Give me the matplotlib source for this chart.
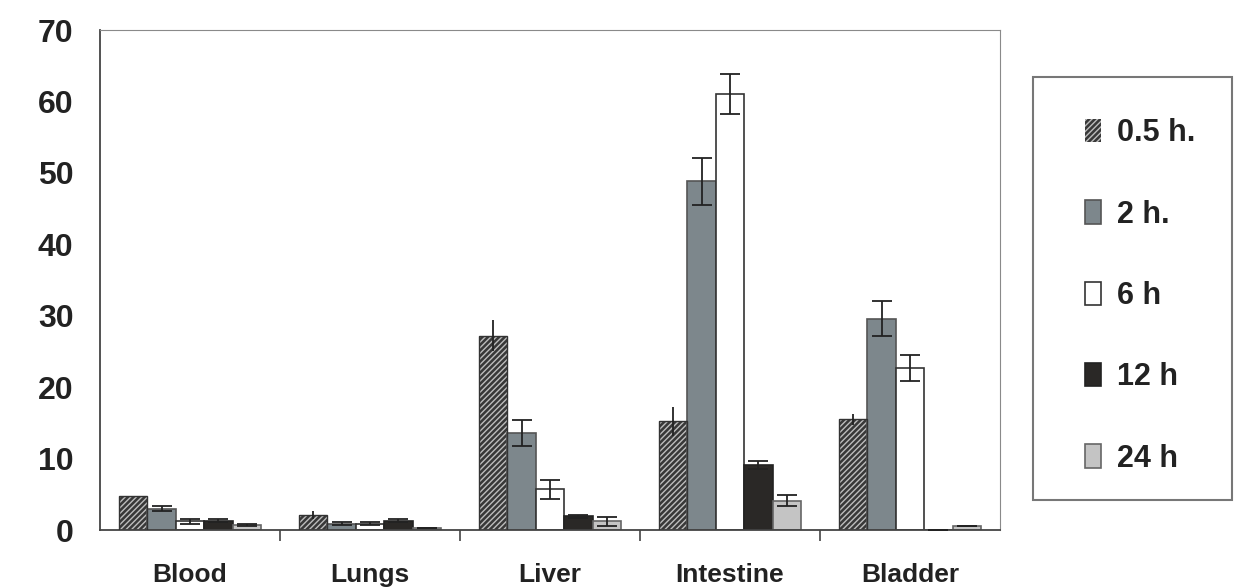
import matplotlib.pyplot as plt
from matplotlib.patches import Rectangle
import numpy as np

plt.rcParams['font.family'] = ['Liberation Sans', 'DejaVu Sans']
plt.rcParams['font.weight'] = 'bold'

organs = ['Blood', 'Lungs', 'Liver', 'Intestine', 'Bladder']
times = ['0.5 h.', '2 h.', '6 h', '12 h', '24 h']

# uptake per organ, one list per time point
v_05 = [4.8, 2.1, 27.2, 15.2, 15.5]
v_2 = [3.0, 0.9, 13.6, 48.8, 29.6]
v_6 = [1.2, 0.9, 5.7, 61.0, 22.7]
v_12 = [1.3, 1.3, 1.9, 9.1, 0.0]
v_24 = [0.7, 0.3, 1.2, 4.1, 0.5]

e_05 = [0.0, 0.5, 2.2, 2.0, 0.8]
e_2 = [0.4, 0.2, 1.8, 3.3, 2.4]
e_6 = [0.3, 0.2, 1.3, 2.8, 1.8]
e_12 = [0.2, 0.2, 0.2, 0.5, 0.0]
e_24 = [0.2, 0.0, 0.6, 0.8, 0.0]

values = [v_05, v_2, v_6, v_12, v_24]
errors = [e_05, e_2, e_6, e_12, e_24]
faces = ['#383838', '#7d878c', '#ffffff', '#2a2826', '#c4c4c4']
edges = ['#333333', '#555555', '#333333', '#222222', '#666666']
caps = [0, 7, 7, 7, 7]

fig = plt.figure(figsize=(12.34, 5.87), dpi=100)
ax = fig.add_axes([100 / 1234, 57 / 587, 900 / 1234, 500 / 587])

x = np.arange(len(organs))
w = 0.158
handles = []
for i, (vals, errs) in enumerate(zip(values, errors)):
    pos = x + (i - 2) * w
    if i == 0:
        b = ax.bar(pos, vals, w, color=faces[i], edgecolor='#bdbdbd',
                   hatch='//////', linewidth=0, zorder=2)
        ax.bar(pos, vals, w, fill=False, edgecolor=edges[i], linewidth=1, zorder=3)
    else:
        b = ax.bar(pos, vals, w, color=faces[i], edgecolor=edges[i],
                   linewidth=1.2, zorder=2)
    handles.append(b)
    ax.errorbar(pos, vals, yerr=errs, fmt='none', ecolor='#222222',
                elinewidth=1.3, capsize=caps[i], capthick=1.3, zorder=4)

ax.set_xlim(-0.5, 4.5)
ax.set_ylim(0, 70)
ax.set_yticks(range(0, 71, 10))
ax.tick_params(axis='y', length=0, pad=19, labelsize=23)
ax.set_xticks(x)
ax.set_xticklabels(organs)
ax.tick_params(axis='x', length=0, pad=24, labelsize=19)
ax.set_xticks(x[:-1] + 0.5, minor=True)
ax.tick_params(axis='x', which='minor', length=8, width=1.2, color='#444444')
for lab in ax.get_yticklabels() + ax.get_xticklabels():
    lab.set_fontweight('bold')
    lab.set_color('#222222')

ax.spines['left'].set_color('#444444')
ax.spines['bottom'].set_color('#444444')
ax.spines['left'].set_linewidth(1.3)
ax.spines['bottom'].set_linewidth(1.3)
ax.spines['top'].set_color('#8a8a8a')
ax.spines['right'].set_color('#8a8a8a')

# legend box
fig.patches.append(Rectangle((1033 / 1234, 1 - 500 / 587), 199 / 1234, 423 / 587,
                             transform=fig.transFigure, fill=False,
                             edgecolor='#777777', linewidth=1.5))
leg = fig.legend(handles, times, loc='upper left',
                 bbox_to_anchor=(1070 / 1234, 1 - 103 / 587),
                 frameon=False, fontsize=22, handlelength=0.5, handleheight=0.8,
                 handletextpad=0.55, labelspacing=1.68, borderpad=0)
for t in leg.get_texts():
    t.set_fontweight('bold')
    t.set_color('#222222')

fig.savefig('out.png', dpi=100)
